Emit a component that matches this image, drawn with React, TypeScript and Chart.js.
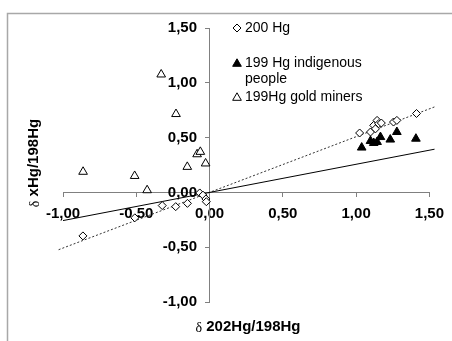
import React, { useEffect, useRef } from "react";
import { Chart, registerables } from "chart.js";

Chart.register(...registerables);

// 200 Hg (open diamonds)
const hg200X = [-0.864, -0.51, -0.323, -0.231, -0.151, -0.067, -0.045, -0.025, -0.022, 1.024, 1.098, 1.12, 1.132, 1.143, 1.154, 1.172, 1.255, 1.278, 1.412];
const hg200Y = [-0.397, -0.232, -0.12, -0.13, -0.1, -0.005, -0.025, -0.06, -0.085, 0.542, 0.551, 0.612, 0.58, 0.657, 0.627, 0.633, 0.642, 0.657, 0.72];

// 199 Hg indigenous people (filled triangles)
const indigenousX = [1.038, 1.098, 1.12, 1.143, 1.166, 1.233, 1.278, 1.408];
const indigenousY = [0.409, 0.469, 0.451, 0.46, 0.505, 0.482, 0.551, 0.49];

// 199Hg gold miners (open triangles)
const minersX = [-0.863, -0.511, -0.426, -0.33, -0.229, -0.152, -0.085, -0.063, -0.027];
const minersY = [0.188, 0.15, 0.02, 1.076, 0.715, 0.233, 0.348, 0.37, 0.264];

// Trend lines
const solidTrendX = [-1.0, 1.535];
const solidTrendY = [-0.257, 0.394];
const dottedTrendX = [-1.03, 1.535];
const dottedTrendY = [-0.523, 0.78];

const seriesLabels = ["200 Hg", "199 Hg indigenous people", "199Hg gold miners"];
const legendLines = [["200 Hg"], ["199 Hg indigenous", "people"], ["199Hg gold miners"]];
const xAxisTitle = ["δ", " 202Hg/198Hg"];
const yAxisTitle = ["δ", " xHg/198Hg"];

const axisMin = -1;
const axisMax = 1.5;
const axisStep = 0.5;

const SANS = "'Liberation Sans', Arial, sans-serif";
const SERIF = "'Liberation Serif', 'DejaVu Serif', serif";

const toPts = (xs: number[], ys: number[]) => xs.map((x, i) => ({ x, y: ys[i] }));
const fmt = (v: number) => (Math.abs(v) < 1e-9 ? 0 : v).toFixed(2).replace(".", ",");

function drawMixedTitle(ctx: CanvasRenderingContext2D, parts: string[], cx: number, cy: number) {
  ctx.font = `14px ${SERIF}`;
  const w1 = ctx.measureText(parts[0]).width;
  ctx.font = `bold 15px ${SANS}`;
  const w2 = ctx.measureText(parts[1]).width;
  const start = cx - (w1 + w2) / 2;
  ctx.textBaseline = "middle";
  ctx.textAlign = "left";
  ctx.fillStyle = "#000";
  ctx.font = `14px ${SERIF}`;
  ctx.fillText(parts[0], start, cy + 1);
  ctx.font = `bold 15px ${SANS}`;
  ctx.fillText(parts[1], start + w1, cy);
}

const decorPlugin = {
  id: "decor",
  beforeDraw(chart: any) {
    const ctx: CanvasRenderingContext2D = chart.ctx;
    ctx.save();
    ctx.fillStyle = "#fff";
    ctx.fillRect(0, 0, chart.width, chart.height);
    ctx.strokeStyle = "#a8a8a8";
    ctx.lineWidth = 1.5;
    ctx.beginPath();
    ctx.moveTo(7.5, chart.height);
    ctx.lineTo(7.5, 13.5);
    ctx.lineTo(chart.width, 13.5);
    ctx.stroke();
    ctx.restore();
  },
  afterDraw(chart: any) {
    const ctx: CanvasRenderingContext2D = chart.ctx;
    ctx.save();
    // axis titles
    drawMixedTitle(ctx, xAxisTitle, 248, 327);
    ctx.save();
    ctx.translate(34, 163);
    ctx.rotate(-Math.PI / 2);
    drawMixedTitle(ctx, yAxisTitle, 0, 0);
    ctx.restore();

    // legend
    const mx = 237;
    const tx = 245;
    const rows = [28, 63, 97];
    ctx.lineWidth = 1;
    ctx.strokeStyle = "#000";
    // diamond
    ctx.beginPath();
    ctx.moveTo(mx - 4, rows[0]);
    ctx.lineTo(mx, rows[0] - 4);
    ctx.lineTo(mx + 4, rows[0]);
    ctx.lineTo(mx, rows[0] + 4);
    ctx.closePath();
    ctx.fillStyle = "#fff";
    ctx.fill();
    ctx.stroke();
    // triangles
    const tri = (cy: number, fill: boolean) => {
      const r = 5;
      ctx.beginPath();
      for (let k = 0; k < 3; k++) {
        const a = (k * 2 * Math.PI) / 3;
        const px = mx + Math.sin(a) * r;
        const py = cy + 0.8 - Math.cos(a) * r;
        if (k === 0) ctx.moveTo(px, py);
        else ctx.lineTo(px, py);
      }
      ctx.closePath();
      ctx.fillStyle = fill ? "#000" : "#fff";
      ctx.fill();
      ctx.stroke();
    };
    tri(rows[1], true);
    tri(rows[2], false);

    ctx.fillStyle = "#000";
    ctx.font = `14px ${SANS}`;
    ctx.textAlign = "left";
    ctx.textBaseline = "middle";
    legendLines.forEach((lines, i) => {
      lines.forEach((line, j) => {
        ctx.fillText(line, tx, rows[i] + j * 16);
      });
    });
    ctx.restore();
  },
};

export default function App() {
  const ref = useRef<HTMLCanvasElement | null>(null);

  useEffect(() => {
    if (!ref.current) return;
    const tickFont = { family: SANS, size: 15, weight: "bold" as const };
    const chart = new Chart(ref.current, {
      type: "scatter",
      data: {
        datasets: [
          {
            label: seriesLabels[0],
            data: toPts(hg200X, hg200Y),
            pointStyle: "rectRot",
            pointRadius: 4,
            backgroundColor: "#fff",
            borderColor: "#000",
            borderWidth: 1,
          },
          {
            label: seriesLabels[1],
            data: toPts(indigenousX, indigenousY),
            pointStyle: "triangle",
            pointRadius: 5,
            backgroundColor: "#000",
            borderColor: "#000",
            borderWidth: 1,
          },
          {
            label: seriesLabels[2],
            data: toPts(minersX, minersY),
            pointStyle: "triangle",
            pointRadius: 5,
            backgroundColor: "#fff",
            borderColor: "#000",
            borderWidth: 1,
          },
          {
            label: "trend 199",
            data: toPts(solidTrendX, solidTrendY),
            showLine: true,
            pointRadius: 0,
            borderColor: "#000",
            borderWidth: 1,
            clip: false as any,
          },
          {
            label: "trend 200",
            data: toPts(dottedTrendX, dottedTrendY),
            showLine: true,
            pointRadius: 0,
            borderColor: "#333",
            borderWidth: 1,
            borderDash: [2, 2],
            clip: false as any,
          },
        ],
      },
      options: {
        responsive: false,
        animation: false,
        layout: { padding: { left: 63, right: 17, top: 28, bottom: 39 } },
        plugins: { legend: { display: false }, tooltip: { enabled: false } },
        scales: {
          x: {
            type: "linear",
            position: { y: 0 } as any,
            min: axisMin,
            max: axisMax,
            afterFit: (s: any) => {
              s.height = 0;
            },
            grid: { drawOnChartArea: false, drawTicks: true, tickLength: 4, color: "#808080" },
            border: { color: "#808080", width: 1 },
            ticks: {
              stepSize: axisStep,
              font: tickFont,
              color: "#000",
              padding: 8,
              maxRotation: 0,
              autoSkip: false,
              callback: (v: any) => fmt(Number(v)),
            },
          },
          y: {
            type: "linear",
            position: { x: 0 } as any,
            min: axisMin,
            max: axisMax,
            afterFit: (s: any) => {
              s.width = 0;
            },
            grid: { drawOnChartArea: false, drawTicks: true, tickLength: 4, color: "#808080" },
            border: { color: "#808080", width: 1 },
            ticks: {
              stepSize: axisStep,
              font: tickFont,
              color: "#000",
              padding: 8,
              autoSkip: false,
              callback: (v: any) => fmt(Number(v)) + "   ",
            },
          },
        },
      },
      plugins: [decorPlugin],
    });
    return () => chart.destroy();
  }, []);

  return (
    <div style={{ position: "fixed", left: 0, top: 0, width: 452, height: 341, background: "#fff" }}>
      <canvas ref={ref} width={452} height={341} style={{ display: "block" }} />
    </div>
  );
}
